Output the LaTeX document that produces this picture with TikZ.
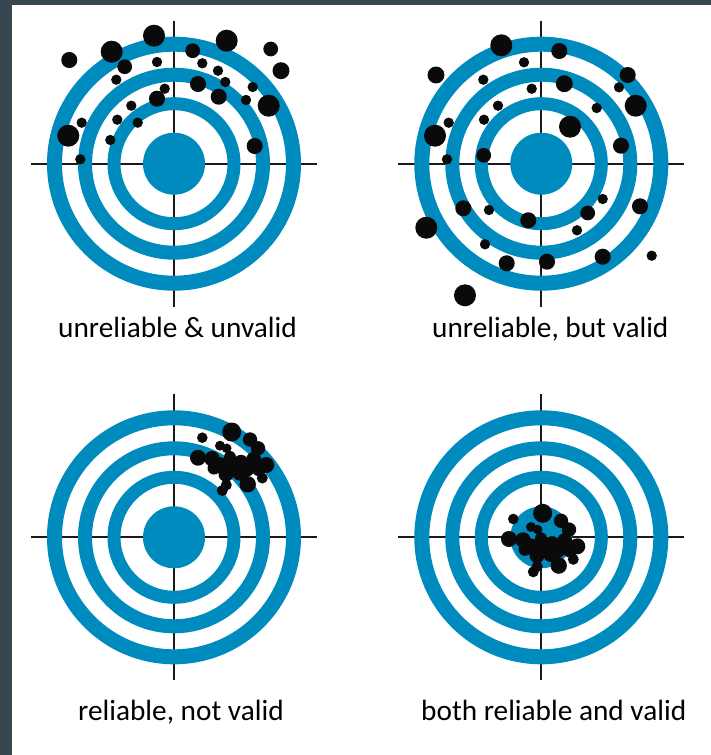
\documentclass[tikz,border=0pt]{standalone}
\usepackage{fontspec}
\setmainfont{Carlito}
\definecolor{frame}{RGB}{55,71,79}
\definecolor{ringblue}{RGB}{0,139,190}
\definecolor{dotc}{RGB}{10,10,10}
\definecolor{crossc}{RGB}{25,25,25}
\newcommand\clusterdots{%
  \foreach \x/\y/\r in {231.7/432/9.5, 202.3/437.7/5.3, 250/439.5/7.2, 220/445.7/5,
    258/448.3/7.2, 226.7/448.3/4.8, 198/457.7/8, 212/458.7/7.8, 241/462.3/7.5,
    253.7/459.3/7.5, 266.3/465/8, 220/465.3/8.2, 233.3/466/8.3, 246.7/469.3/7.5,
    259/468.7/7.5, 226/474.3/7.5, 240/472.7/8, 262.3/478/5.5, 247.7/484.3/8.2,
    226.3/485/5.5, 222.3/490.5/5.5, 230/457/6, 214/468/6.5}
    \fill[dotc] (\x,\y) circle[radius=\r pt];
}
\tikzset{
  target/.pic={
    \draw[crossc, line width=1.8pt] (-143,0) -- (143,0);
    \draw[crossc, line width=1.8pt] (0,-143) -- (0,143);
    \draw[ringblue, line width=15pt] (0,0) circle[radius=119.5pt];
    \draw[ringblue, line width=14pt] (0,0) circle[radius=89pt];
    \draw[ringblue, line width=13pt] (0,0) circle[radius=60pt];
    \fill[ringblue] (0,0) circle[radius=31pt];
  },
  lbl/.style={anchor=base west, inner sep=0pt, font=\fontsize{29.3pt}{35pt}\selectfont, text=black},
}
\begin{document}
\begin{tikzpicture}[x=1pt, y=-1pt]
\useasboundingbox (0,0) rectangle (711,755);
\fill[frame] (0,0) rectangle (711,755);
\fill[white] (12,5) rectangle (711,755);

\pic at (174,163.7) {target};
\pic at (541.3,163.7) {target};
\pic at (174,537.3) {target};
\pic at (541.3,537.3) {target};

% top-left: unreliable & unvalid
\foreach \x/\y/\r in {69.3/60/7.3, 111.7/51.7/10, 154/35.7/10, 226.7/40.7/10, 270.7/49/6.7,
  281/70.7/7.7, 192.7/50.7/6.7, 124.7/66.7/6.7, 157/62/4.7, 202.3/63.3/4.7, 218/70.7/4.7,
  116.3/79.7/4.7, 225.3/82/4.7, 198/84/7.3, 164.7/88.7/4.7, 252.7/87/4.7, 218.7/96.7/7.3,
  157/98.7/7.3, 246/100/4.7, 268.7/105.7/10, 131.3/105.7/4.7, 117.3/119.7/4.7, 81.7/122.7/4.7,
  137.7/122.7/4.7, 68.3/135.7/10, 110.3/140/4.7, 254.7/146/7.3, 80.3/159.3/4.7}
  \fill[dotc] (\x,\y) circle[radius=1.1*\r pt];

% top-right: unreliable, but valid
\foreach \x/\y/\r in {501.3/45.3/10, 559.3/51/7.3, 524/62.3/4.7, 436/75/7.7, 627.7/75/7.3,
  483.3/79.7/4.7, 564.3/83.7/7.7, 619/87.3/4.7, 531.7/88.7/4.7, 635.7/105.7/10, 498/105.7/4.7,
  596.7/108/4.7, 448.7/122.7/4.7, 484/119.7/4.7, 570/126.7/10, 435/135.7/10, 621/145.7/7.3,
  483.7/155.3/6.7, 447/159.3/4.7, 602.7/199/4.7, 640/206.3/7.3, 463.3/208.3/7.3, 489/210/4.7,
  587.7/213/6.7, 528.3/220.3/7.3, 426.3/227.7/10, 577/230.3/4.7, 485/244.3/4.7, 506.7/263.3/7.3,
  547/261.7/7.3, 602.7/256.7/7.3, 651.7/255.7/4.7, 465/295.3/10}
  \fill[dotc] (\x,\y) circle[radius=1.1*\r pt];

% bottom-left: reliable, not valid
\begin{scope}
\clusterdots
\end{scope}
% bottom-right: both reliable and valid
\begin{scope}[shift={(311,81.3)}]
\clusterdots
\end{scope}

\node[lbl] (l1) at (58,337) {unreliable \& unvalid};
\node[lbl] (l2) at (432,337) {unreliable, but valid};
\node[lbl] (l3) at (78,720) {reliable, not valid};
\node[lbl] (l4) at (421,720) {both reliable and valid};
\end{tikzpicture}
\end{document}
